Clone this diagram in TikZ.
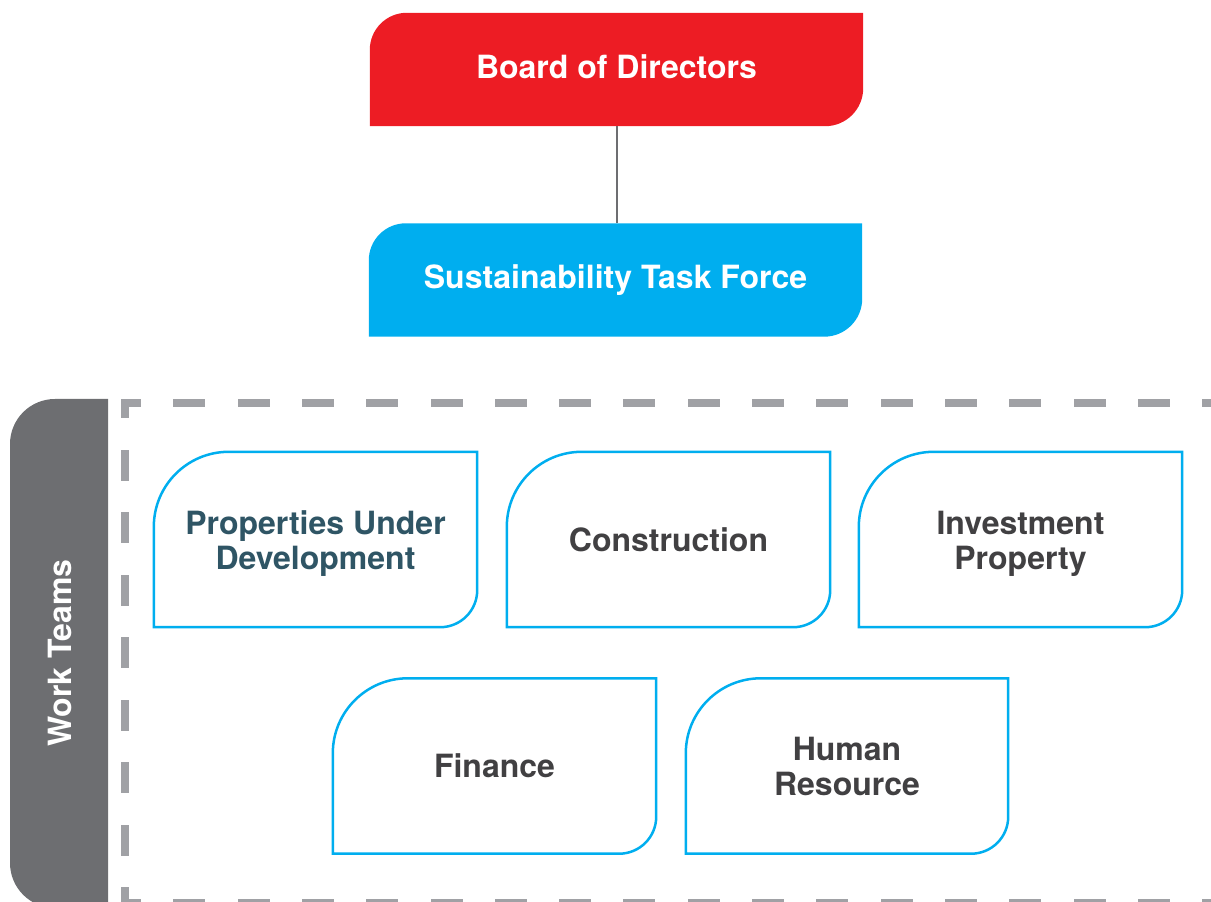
\documentclass[tikz,border=0pt]{standalone}
\usepackage{fontspec}
\setmainfont{TeX Gyre Heros}
\usetikzlibrary{backgrounds}

\definecolor{boardred}{HTML}{ED1C24}
\definecolor{taskblue}{HTML}{00AEEF}
\definecolor{tabgray}{HTML}{6D6E71}
\definecolor{dashgray}{HTML}{A0A1A5}
\definecolor{teamtext}{HTML}{414042}
\definecolor{devtext}{HTML}{2F5565}

% Leaf-like outline around a node: rounded top-left and bottom-right corners
% #1 node name, #2 top-left radius, #3 bottom-right radius, #4 path options
\newcommand\leafshape[4]{%
  \path[#4] (#1.south west) -- ([yshift=-#2]#1.north west)
    arc[start angle=180,end angle=90,radius=#2] -- (#1.north east)
    -- ([yshift=#3]#1.south east)
    arc[start angle=0,end angle=-90,radius=#3] -- cycle;}

% two centred lines, lowered a little (extents kept as they are)
\newcommand\twolines[2]{\raisebox{-4pt}[\height][\depth]{\parbox{310pt}{\centering #1\\#2}}}

\tikzset{
  labelfont/.style={font=\bfseries\fontsize{32}{35}\selectfont},
  headbox/.style={labelfont, inner sep=0pt, minimum width=493pt,
    minimum height=113pt, text=white, align=center},
  teambox/.style={labelfont, inner sep=0pt, minimum width=323pt,
    minimum height=175pt, text=teamtext, align=center},
  teamline/.style={draw=taskblue, line width=2.5pt, fill=white},
  conn/.style={draw=tabgray, line width=2pt},
  hdash/.style={draw=dashgray, line width=8pt, line cap=rect,
    dash pattern=on 24pt off 40.3pt, dash phase=12pt},
  vdash/.style={draw=dashgray, line width=8pt, line cap=rect,
    dash pattern=on 23pt off 39.5pt, dash phase=11.5pt},
}

\begin{document}
\begin{tikzpicture}[x=1pt,y=1pt]
\useasboundingbox (0,0) rectangle (1211,902);

% top of the hierarchy
\node[headbox, text height=23pt, text depth=4pt] (board) at (616.5,832.5) {Board of Directors};
\node[headbox] (stf) at (615.5,622) {Sustainability Task Force};

% work teams
\node[teambox, text=devtext] (pud) at (315.5,362.5) {\twolines{Properties Under}{Development}};
\node[teambox] (con) at (668.5,362.5) {Construction};
\node[teambox] (inv) at (1020.5,362.5) {\twolines{Investment}{Property}};
\node[teambox] (fin) at (494.5,136) {Finance};
\node[teambox, minimum width=322pt] (hr) at (847,136) {Human\\Resource};

% side tab corners
\coordinate (tabtop) at (108,503);
\coordinate (tabbot) at (108,-6);

\begin{scope}[on background layer]
  \leafshape{board}{37pt}{38pt}{fill=boardred}
  \leafshape{stf}{37pt}{38pt}{fill=taskblue}
  \draw[conn] (board.south) -- (board.south |- stf.north);

  % side tab
  \fill[tabgray] (tabtop) -- (55,503) arc[start angle=90,end angle=180,radius=45pt]
    -- (10,39) arc[start angle=180,end angle=270,radius=45pt] -- (tabbot) -- cycle;

  % dashed frame around the work teams
  \coordinate (fnw) at (125,499);
  \coordinate (fsw) at (125,-1);
  \path[hdash] (fnw) -- (1240,499);
  \path[vdash] (fnw) -- (fsw);
  \path[hdash] (fsw) -- (1240,-1);

  \foreach \t in {pud,con,inv,fin,hr}{\leafshape{\t}{75pt}{37pt}{teamline}}
\end{scope}

\node[labelfont, rotate=90, text=white] (wt) at (60,249) {Work Teams};
\end{tikzpicture}
\end{document}
